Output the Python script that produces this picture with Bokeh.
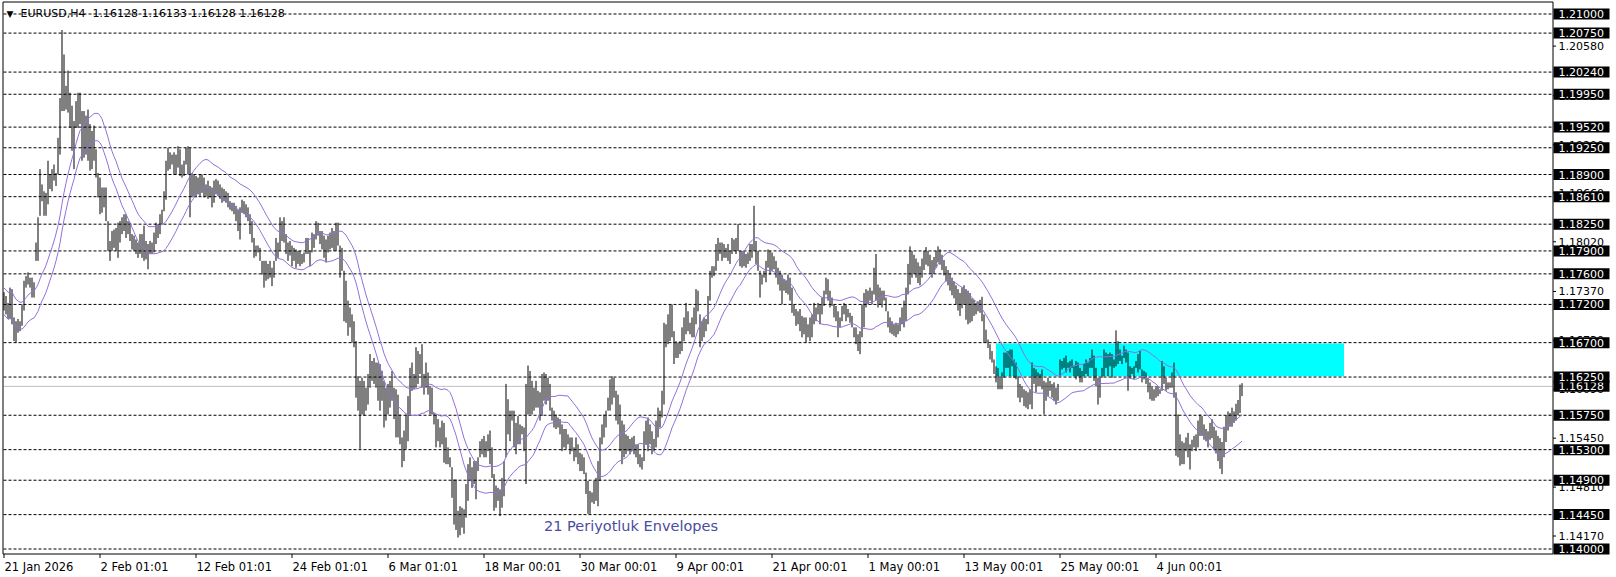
import numpy as np
import pandas as pd
from bokeh.plotting import figure
from bokeh.models import Range1d, ColumnDataSource
from bokeh.core.properties import value
from bokeh.embed import file_html
from bokeh.resources import INLINE

# ---------------- data (EURUSD H4) ----------------
HIGH = [
    1.1736,1.1731,1.1722,1.1742,1.1740,1.1703,1.1698,1.1701,1.1698,1.1720,
    1.1751,1.1757,1.1762,1.1755,1.1755,1.1749,1.1801,1.1834,1.1897,1.1877,
    1.1868,1.1866,1.1908,1.1890,1.1897,1.1903,1.1892,1.1938,1.1990,1.2079,
    1.2047,1.2006,1.2026,1.1997,1.1980,1.1960,1.1986,1.1997,1.1997,1.1973,
    1.1973,1.1967,1.1975,1.1956,1.1947,1.1954,1.1923,1.1892,1.1886,1.1873,
    1.1873,1.1873,1.1829,1.1803,1.1816,1.1818,1.1820,1.1827,1.1829,1.1834,
    1.1838,1.1838,1.1829,1.1827,1.1812,1.1810,1.1805,1.1801,1.1812,1.1812,
    1.1823,1.1803,1.1799,1.1803,1.1801,1.1814,1.1827,1.1825,1.1838,1.1844,
    1.1868,1.1908,1.1925,1.1919,1.1916,1.1919,1.1916,1.1927,1.1923,1.1903,
    1.1908,1.1925,1.1927,1.1925,1.1892,1.1890,1.1888,1.1886,1.1890,1.1890,
    1.1886,1.1877,1.1882,1.1875,1.1873,1.1882,1.1884,1.1882,1.1877,1.1873,
    1.1871,1.1868,1.1866,1.1855,1.1853,1.1853,1.1849,1.1844,1.1847,1.1857,
    1.1855,1.1851,1.1847,1.1838,1.1829,1.1807,1.1797,1.1797,1.1794,1.1777,
    1.1777,1.1777,1.1773,1.1777,1.1768,1.1777,1.1807,1.1801,1.1834,1.1829,
    1.1834,1.1812,1.1801,1.1803,1.1797,1.1794,1.1792,1.1790,1.1790,1.1786,
    1.1788,1.1807,1.1807,1.1790,
    1.1814,1.1812,1.1829,1.1827,1.1816,1.1816,1.1810,1.1805,1.1810,1.1814,
    1.1820,1.1816,1.1827,1.1827,1.1797,1.1794,1.1764,1.1751,1.1725,1.1716,
    1.1707,1.1698,1.1672,1.1626,1.1620,1.1624,1.1620,1.1611,1.1629,1.1655,
    1.1646,1.1650,1.1644,1.1644,1.1642,1.1633,1.1620,1.1611,1.1616,1.1620,
    1.1633,1.1611,1.1609,1.1602,1.1576,1.1546,1.1555,1.1576,1.1600,1.1637,
    1.1644,1.1629,1.1664,1.1659,1.1655,1.1668,1.1629,1.1644,1.1631,1.1613,
    1.1611,1.1578,1.1576,1.1570,1.1559,1.1568,1.1565,1.1546,1.1533,1.1520,
    1.1507,1.1491,1.1491,1.1450,1.1456,1.1454,1.1452,1.1485,1.1511,1.1520,
    1.1507,1.1515,1.1515,1.1520,1.1541,1.1544,1.1548,1.1541,1.1550,1.1555,
    1.1533,1.1498,1.1483,1.1480,1.1478,1.1493,1.1515,1.1616,1.1596,1.1581,
    1.1581,1.1581,1.1565,1.1574,1.1563,1.1561,1.1559,1.1616,1.1640,1.1633,
    1.1620,1.1611,1.1620,1.1607,1.1605,1.1629,1.1631,1.1629,1.1624,1.1616,
    1.1585,1.1581,1.1576,1.1572,1.1570,1.1563,1.1557,1.1557,1.1550,1.1546,
    1.1546,1.1533,1.1546,1.1537,1.1526,1.1524,1.1520,1.1500,1.1489,1.1476,
    1.1474,1.1489,1.1493,1.1515,1.1546,1.1563,1.1576,1.1581,1.1598,1.1622,
    1.1626,1.1624,1.1607,1.1602,1.1589,1.1568,1.1563,1.1550,1.1548,1.1544,
    1.1546,1.1548,1.1537,1.1537,1.1524,1.1520,1.1554,1.1568,1.1572,1.1563,
    1.1554,1.1544,1.1568,1.1585,1.1581,1.1607,1.1696,1.1694,1.1707,1.1720,
    1.1720,1.1685,1.1672,1.1670,1.1672,1.1690,1.1703,1.1722,1.1711,1.1696,
    1.1703,1.1716,1.1740,1.1738,1.1707,1.1698,1.1703,1.1701,1.1731,1.1764,
    1.1770,1.1770,1.1799,1.1807,1.1801,1.1801,1.1799,1.1794,1.1799,1.1790,
    1.1807,1.1805,1.1807,1.1825,1.1790,1.1790,1.1790,1.1786,1.1788,1.1799,
    1.1799,1.1849,1.1803,1.1790,1.1764,1.1759,1.1764,1.1777,1.1792,1.1790,
    1.1788,1.1783,1.1777,1.1768,1.1764,1.1759,1.1753,1.1751,1.1759,1.1755,
    1.1742,1.1720,1.1714,1.1711,1.1714,1.1705,1.1703,1.1703,1.1694,1.1703,
    1.1707,1.1722,1.1716,1.1722,1.1720,1.1729,1.1738,1.1755,1.1753,1.1738,
    1.1729,1.1720,1.1718,1.1711,1.1703,1.1718,1.1722,1.1720,1.1714,1.1709,
    1.1705,1.1690,1.1690,1.1681,1.1685,1.1720,1.1735,1.1740,1.1738,1.1742,
    1.1738,1.1768,1.1786,1.1746,1.1742,1.1738,1.1738,1.1729,1.1711,1.1703,
    1.1698,1.1694,1.1696,1.1694,1.1703,1.1716,1.1725,1.1742,1.1773,1.1796,
    1.1790,1.1785,1.1780,1.1775,1.1770,1.1780,1.1790,1.1795,1.1790,1.1785,
    1.1778,1.1782,1.1790,1.1796,1.1792,1.1785,1.1778,1.1770,1.1765,1.1760,
    1.1755,1.1750,1.1745,1.1740,1.1735,1.1742,1.1745,1.1740,
    1.1738,1.1735,1.1728,1.1726,1.1722,1.1724,1.1726,1.1730,1.1707,1.1687,
    1.1674,1.1668,1.1659,1.1648,1.1639,1.1637,1.1624,1.1631,1.1657,1.1657,
    1.1659,1.1661,1.1661,1.1648,1.1644,1.1626,1.1616,1.1613,1.1609,1.1607,
    1.1605,1.1609,1.1644,1.1637,1.1635,1.1631,1.1629,1.1635,1.1620,1.1618,
    1.1624,1.1620,1.1616,1.1618,1.1611,1.1616,1.1648,1.1646,1.1650,1.1653,
    1.1644,1.1646,1.1648,1.1639,1.1646,1.1644,1.1637,1.1633,1.1642,1.1648,
    1.1644,1.1650,1.1661,1.1653,1.1637,1.1624,1.1624,1.1637,1.1661,1.1657,
    1.1655,1.1657,1.1655,1.1648,1.1686,1.1672,1.1661,1.1653,1.1666,1.1661,
    1.1657,1.1639,1.1637,1.1639,1.1646,1.1655,1.1659,1.1635,1.1633,1.1631,
    1.1624,1.1618,1.1613,1.1609,1.1613,1.1613,1.1609,1.1646,1.1639,1.1624,
    1.1618,1.1618,1.1631,1.1644,1.1605,1.1576,1.1550,1.1541,1.1539,1.1546,
    1.1552,1.1537,1.1543,1.1548,1.1550,1.1568,1.1576,1.1574,1.1563,1.1557,
    1.1554,1.1565,
    1.1570,1.1560,1.1555,1.1548,1.1545,1.1540,1.1560,1.1575,1.1580,1.1578,
    1.1585,1.1580,1.1590,1.1595,1.1615,1.1617,
]
LOW = [
    1.1712,1.1707,1.1701,1.1701,1.1694,1.1672,1.1670,1.1683,1.1685,1.1692,
    1.1712,1.1742,1.1746,1.1742,1.1729,1.1729,1.1777,1.1777,1.1836,1.1855,
    1.1836,1.1836,1.1851,1.1871,1.1868,1.1882,1.1875,1.1890,1.1916,1.1973,
    1.1973,1.1975,1.1971,1.1951,1.1921,1.1897,1.1951,1.1951,1.1956,1.1908,
    1.1912,1.1916,1.1908,1.1895,1.1897,1.1908,1.1886,1.1860,1.1838,1.1840,
    1.1847,1.1829,1.1790,1.1777,1.1790,1.1794,1.1790,1.1781,1.1801,1.1812,
    1.1816,1.1807,1.1812,1.1803,1.1792,1.1790,1.1786,1.1781,1.1786,1.1781,
    1.1777,1.1779,1.1766,1.1786,1.1786,1.1788,1.1799,1.1807,1.1812,1.1825,
    1.1842,1.1857,1.1895,1.1897,1.1903,1.1890,1.1890,1.1899,1.1888,1.1886,
    1.1888,1.1903,1.1890,1.1834,1.1860,1.1862,1.1860,1.1864,1.1862,1.1866,
    1.1860,1.1862,1.1858,1.1860,1.1847,1.1853,1.1864,1.1862,1.1858,1.1853,
    1.1855,1.1853,1.1847,1.1844,1.1842,1.1838,1.1829,1.1816,1.1805,1.1840,
    1.1838,1.1834,1.1829,1.1812,1.1801,1.1781,1.1783,1.1788,1.1777,1.1759,
    1.1742,1.1751,1.1753,1.1755,1.1744,1.1755,1.1777,1.1781,1.1790,1.1803,
    1.1801,1.1786,1.1777,1.1784,1.1770,1.1777,1.1768,1.1773,1.1770,1.1773,
    1.1775,1.1786,1.1786,1.1770,
    1.1788,1.1794,1.1805,1.1810,1.1799,1.1792,1.1781,1.1775,1.1788,1.1792,
    1.1794,1.1790,1.1790,1.1797,1.1755,1.1764,1.1698,1.1696,1.1679,1.1690,
    1.1670,1.1664,1.1598,1.1581,1.1531,1.1576,1.1574,1.1581,1.1589,1.1611,
    1.1620,1.1616,1.1611,1.1594,1.1581,1.1594,1.1559,1.1568,1.1576,1.1585,
    1.1594,1.1570,1.1546,1.1546,1.1537,1.1507,1.1515,1.1531,1.1541,1.1576,
    1.1607,1.1609,1.1611,1.1616,1.1629,1.1611,1.1602,1.1611,1.1602,1.1576,
    1.1576,1.1563,1.1533,1.1541,1.1533,1.1537,1.1513,1.1511,1.1511,1.1507,
    1.1467,1.1432,1.1425,1.1415,1.1418,1.1428,1.1420,1.1441,1.1463,1.1489,
    1.1480,1.1485,1.1465,1.1502,1.1520,1.1524,1.1520,1.1520,1.1528,1.1511,
    1.1493,1.1450,1.1454,1.1463,1.1443,1.1454,1.1469,1.1520,1.1550,1.1541,
    1.1568,1.1533,1.1524,1.1537,1.1537,1.1550,1.1528,1.1485,1.1576,1.1576,
    1.1576,1.1581,1.1585,1.1585,1.1568,1.1574,1.1594,1.1589,1.1594,1.1581,
    1.1568,1.1559,1.1557,1.1559,1.1550,1.1528,1.1533,1.1531,1.1537,1.1524,
    1.1528,1.1515,1.1520,1.1511,1.1502,1.1502,1.1498,1.1472,1.1446,1.1446,
    1.1461,1.1459,1.1463,1.1456,1.1489,1.1537,1.1546,1.1559,1.1581,1.1581,
    1.1589,1.1598,1.1568,1.1563,1.1528,1.1511,1.1520,1.1524,1.1528,1.1524,
    1.1528,1.1524,1.1520,1.1511,1.1507,1.1504,1.1515,1.1537,1.1528,1.1537,
    1.1524,1.1528,1.1533,1.1546,1.1559,1.1572,1.1589,1.1664,1.1668,1.1672,
    1.1677,1.1642,1.1650,1.1650,1.1655,1.1659,1.1672,1.1681,1.1685,1.1681,
    1.1677,1.1677,1.1694,1.1711,1.1664,1.1672,1.1677,1.1685,1.1694,1.1725,
    1.1755,1.1757,1.1764,1.1777,1.1786,1.1777,1.1781,1.1781,1.1777,1.1773,
    1.1786,1.1790,1.1786,1.1790,1.1770,1.1768,1.1770,1.1768,1.1773,1.1777,
    1.1781,1.1790,1.1773,1.1764,1.1729,1.1746,1.1755,1.1749,1.1768,1.1759,
    1.1764,1.1766,1.1755,1.1746,1.1738,1.1720,1.1738,1.1735,1.1733,1.1725,
    1.1709,1.1705,1.1692,1.1694,1.1685,1.1677,1.1681,1.1670,1.1677,1.1672,
    1.1677,1.1694,1.1698,1.1707,1.1694,1.1707,1.1718,1.1733,1.1725,1.1716,
    1.1718,1.1703,1.1698,1.1677,1.1690,1.1698,1.1707,1.1698,1.1703,1.1696,
    1.1690,1.1677,1.1668,1.1659,1.1655,1.1677,1.1690,1.1716,1.1720,1.1725,
    1.1720,1.1733,1.1725,1.1716,1.1720,1.1716,1.1725,1.1711,1.1690,1.1683,
    1.1681,1.1679,1.1677,1.1681,1.1685,1.1694,1.1690,1.1698,1.1733,1.1746,
    1.1755,1.1760,1.1755,1.1748,1.1745,1.1755,1.1765,1.1772,1.1770,1.1760,
    1.1755,1.1760,1.1768,1.1775,1.1772,1.1765,1.1758,1.1750,1.1745,1.1738,
    1.1732,1.1728,1.1720,1.1712,1.1705,1.1715,1.1720,1.1700,
    1.1694,1.1696,1.1698,1.1705,1.1707,1.1711,1.1709,1.1698,1.1670,1.1670,
    1.1663,1.1648,1.1644,1.1629,1.1618,1.1609,1.1609,1.1609,1.1624,1.1637,
    1.1637,1.1626,1.1639,1.1624,1.1622,1.1598,1.1592,1.1598,1.1587,1.1585,
    1.1583,1.1589,1.1583,1.1616,1.1605,1.1613,1.1613,1.1609,1.1576,1.1594,
    1.1600,1.1607,1.1598,1.1594,1.1589,1.1594,1.1626,1.1635,1.1637,1.1631,
    1.1637,1.1631,1.1637,1.1626,1.1622,1.1626,1.1618,1.1618,1.1626,1.1629,
    1.1626,1.1637,1.1637,1.1620,1.1613,1.1589,1.1598,1.1624,1.1626,1.1637,
    1.1626,1.1639,1.1624,1.1637,1.1639,1.1642,1.1646,1.1642,1.1650,1.1644,
    1.1607,1.1624,1.1629,1.1622,1.1637,1.1631,1.1635,1.1618,1.1622,1.1616,
    1.1605,1.1596,1.1594,1.1594,1.1598,1.1600,1.1603,1.1607,1.1616,1.1607,
    1.1609,1.1611,1.1611,1.1598,1.1522,1.1520,1.1509,1.1511,1.1511,1.1528,
    1.1520,1.1504,1.1528,1.1533,1.1528,1.1533,1.1548,1.1548,1.1543,1.1541,
    1.1533,1.1543,
    1.1545,1.1530,1.1525,1.1515,1.1505,1.1498,1.1520,1.1540,1.1555,1.1560,
    1.1560,1.1565,1.1568,1.1575,1.1578,1.1600,
]
assert len(HIGH) == len(LOW), (len(HIGH), len(LOW))

TIME_LABELS = ["21 Jan 2026", "2 Feb 01:01", "12 Feb 01:01", "24 Feb 01:01", "6 Mar 01:01",
               "18 Mar 00:01", "30 Mar 00:01", "9 Apr 00:01", "21 Apr 00:01", "1 May 00:01",
               "13 May 00:01", "25 May 00:01", "4 Jun 00:01"]
BARS_PER_LABEL = 48

LEVELS = [1.21000, 1.20750, 1.20240, 1.19950, 1.19520, 1.19250, 1.18900, 1.18610, 1.18250,
          1.17900, 1.17600, 1.17200, 1.16700, 1.16250, 1.15750, 1.15300, 1.14900, 1.14450, 1.14000]
PRICE_TICKS = [1.20580, 1.19930, 1.19290, 1.18660, 1.18020, 1.17370, 1.16730, 1.16090,
               1.15450, 1.14810, 1.14170]
SYMBOL = "EURUSD,H4"
LAST = [1.16128, 1.16133, 1.16128, 1.16128]   # O H L C of the current bar
ZONE_BARS = [496, 670]
ZONE_PRICES = [1.1626, 1.1669]
ENV_PERIOD = 21
ENV_DEVIATION = 0.15  # percent
ENV_NOTE = "21 Periyotluk Envelopes"
NOTE_BAR, NOTE_PRICE = 270, 1.1430

# ---------------- derived ----------------
hi = np.array(HIGH)
lo = np.array(LOW)
idx = np.arange(len(hi))
mid = pd.Series((hi + lo) / 2.0)
sma = mid.rolling(ENV_PERIOD, min_periods=1).mean().to_numpy()
env_up = sma * (1 + ENV_DEVIATION / 100.0)
env_dn = sma * (1 - ENV_DEVIATION / 100.0)

# ---------------- layout (MetaTrader-like window) ----------------
FONT = "DejaVu Sans"
W, H = 1616, 577
PX_PER_BAR = 2.0
PPU = 7643.0                     # pixels per price unit
X_ORIGIN_PX = 3.5                # pixel of bar 0
Y_ANCHOR_PX, Y_ANCHOR = 13.5, 1.21
CH_L, CH_R, CH_T, CH_B = 2.5, 1552.5, 1.5, 553.5   # chart box edges in px


def X(px):
    return (px - X_ORIGIN_PX) / PX_PER_BAR


def Y(py):
    return Y_ANCHOR - (py - Y_ANCHOR_PX) / PPU


def DY(dpx):
    return dpx / PPU


p = figure(width=W, height=H, output_backend="svg", toolbar_location=None,
           x_range=Range1d(X(0), X(W)), y_range=Range1d(Y(H), Y(0)),
           x_axis_location=None, y_axis_location=None,
           min_border=0, min_border_left=0, min_border_right=0, min_border_top=0, min_border_bottom=0,
           background_fill_color="white", border_fill_color="white")
p.outline_line_color = None
p.xgrid.visible = False
p.ygrid.visible = False

txt = dict(text_font=value(FONT), text_font_size=value("11px"), text_baseline="middle", text_align="left")

# zone rectangle
p.quad(left=[ZONE_BARS[0]], right=[ZONE_BARS[1]], bottom=[ZONE_PRICES[0]], top=[ZONE_PRICES[1]],
       fill_color="#00FFFF", line_color=None)
# horizontal level lines (dashed)
n = len(LEVELS)
p.segment(x0=[X(CH_L + 0.5)] * n, x1=[X(CH_R)] * n, y0=LEVELS, y1=LEVELS,
          line_color="black", line_width=1, line_dash="3 2")
# bid line
p.segment(x0=[X(CH_L + 0.5)], x1=[X(CH_R)], y0=[LAST[3]], y1=[LAST[3]], line_color="#C0C0C0", line_width=1)
# bars
src = ColumnDataSource(dict(x=idx, hi=hi, lo=lo))
p.segment(x0="x", y0="lo", x1="x", y1="hi", source=src, line_color="black", line_width=1)
# envelopes
p.line(idx, env_up, line_color="#9370DB", line_width=1)
p.line(idx, env_dn, line_color="#9370DB", line_width=1)

# chart box
p.quad(left=[X(CH_L)], right=[X(CH_R)], top=[Y(CH_T)], bottom=[Y(CH_B)],
       fill_color=None, line_color="black", line_width=1)

# price scale (right): regular ticks
m = len(PRICE_TICKS)
p.segment(x0=[X(CH_R)] * m, x1=[X(CH_R + 3)] * m, y0=PRICE_TICKS, y1=PRICE_TICKS,
          line_color="black", line_width=1)
p.text(x=[X(1558)] * m, y=PRICE_TICKS, text=[f"{v:.5f}" for v in PRICE_TICKS], text_color="black", **txt)


def black_labels(values):
    k = len(values)
    p.quad(left=[X(1553)] * k, right=[X(1609)] * k, top=[v + DY(5.5) for v in values],
           bottom=[v - DY(5.5) for v in values], fill_color="black", line_color=None)
    p.text(x=[X(1558)] * k, y=values, text=[f"{v:.5f}" for v in values], text_color="white", **txt)


# bid label first, level labels drawn over it
black_labels([LAST[3]])
black_labels(LEVELS)

# time scale (bottom)
tb = [j * BARS_PER_LABEL for j in range(len(TIME_LABELS))]
p.segment(x0=tb, x1=tb, y0=[Y(CH_B)] * len(tb), y1=[Y(CH_B + 4)] * len(tb), line_color="black", line_width=1)
p.text(x=[t + 0.25 for t in tb], y=[Y(566)] * len(tb), text=TIME_LABELS, text_color="black",
       text_font=value(FONT), text_font_size=value("11.5px"), text_baseline="middle", text_align="left")

# caption
p.text(x=[X(6)], y=[Y(13)], text=["\u25BC"], text_color="black",
       text_font=value(FONT), text_font_size=value("9px"), text_baseline="middle", text_align="left")
p.text(x=[X(20)], y=[Y(13)],
       text=[SYMBOL + "\u00a0\u00a0" + "\u00a0".join(f"{v:.5f}" for v in LAST)], text_color="black", **txt)
# envelope note
p.text(x=[NOTE_BAR], y=[NOTE_PRICE], text=[ENV_NOTE], text_color="#4B4BA0",
       text_font=value(FONT), text_font_size=value("14.5px"), text_baseline="middle", text_align="left")

open("out.html", "w").write(file_html(p, INLINE))
